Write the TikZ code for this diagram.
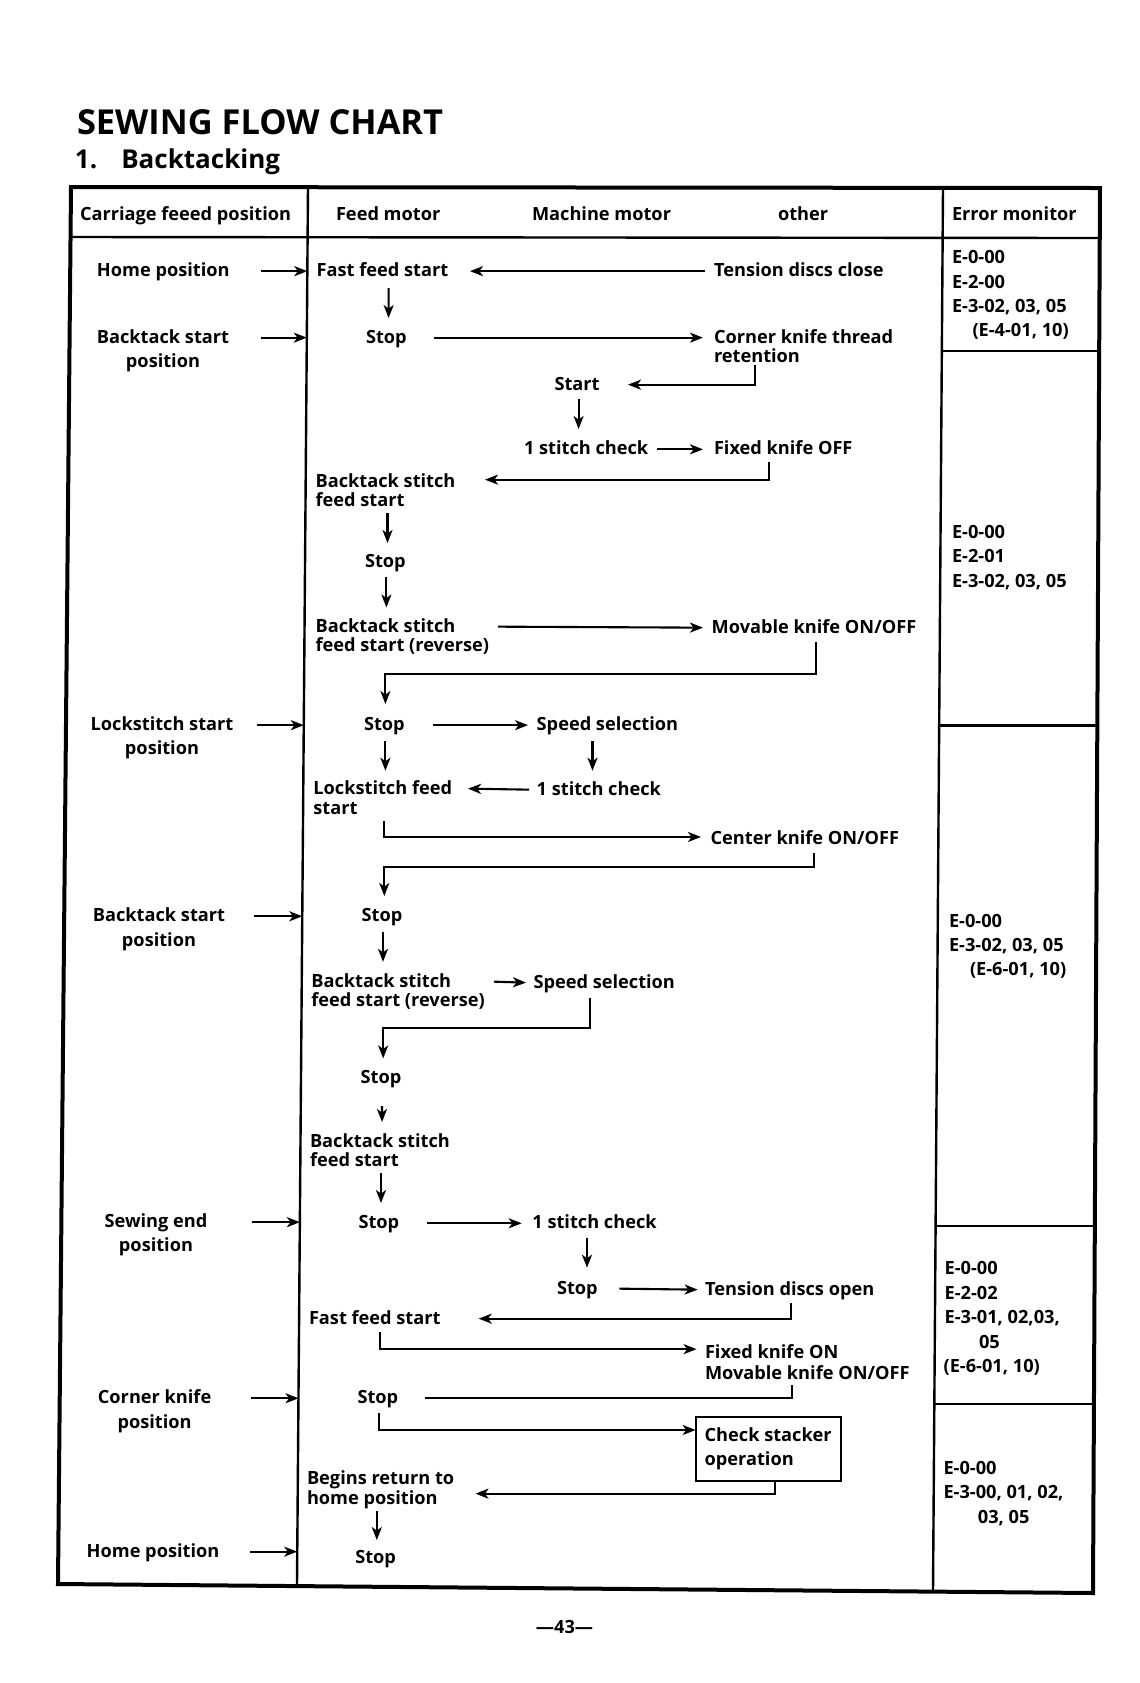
\documentclass[tikz,border=0pt]{standalone}
\usepackage{fontspec}
\setmainfont{Open Sans}
\usetikzlibrary{arrows.meta,calc}
\newcommand\bodyfont{\fontsize{9.1pt}{11pt}\selectfont\bfseries}
\newcommand\TwoL[3]{\vtop{\baselineskip=#1\relax\lineskiplimit=-\maxdimen\hbox{#2}\hbox{#3}}}
\newcommand\TwoC[3]{\vtop{\baselineskip=#1\relax\lineskiplimit=-\maxdimen\halign{\hfil##\hfil\cr#2\cr#3\cr}}}
\newcommand\Lines[1]{\vtop{\baselineskip=12.2pt\relax\lineskiplimit=-\maxdimen #1}}
\begin{document}
\begin{tikzpicture}[x=0.5pt,y=-0.5pt,
  every node/.style={inner sep=0pt, outer sep=0pt, font=\bodyfont},
  txt/.style={anchor=base west},
  ctxt/.style={anchor=base},
  flow/.style={line width=1.05pt, -{Stealth[length=6.5pt,width=5pt,inset=1.8pt]}},
  ln/.style={line width=1.05pt},
  frame/.style={line width=2pt},
  rule/.style={line width=1.2pt}]
\useasboundingbox (0,0) rectangle (1140,1683);

% titles
\node[txt, font=\fontsize{17.2pt}{20pt}\selectfont\bfseries] (title) at (77,134) {SEWING FLOW CHART};
\node[txt, font=\fontsize{13pt}{15pt}\selectfont\bfseries] (sub) at (75,168.5) {1.\hspace{12pt}Backtacking};

% table frame
\coordinate (TL) at (71,187);
\coordinate (TR) at (1100,188);
\coordinate (BR) at (1093,1593);
\coordinate (BL) at (58,1584);
\draw[frame] (TL) -- (TR) -- (BR) -- (BL) -- cycle;
\coordinate (c1t) at (308,187);
\coordinate (c1b) at (297,1585);
\coordinate (c2t) at (943,188);
\coordinate (c2b) at (933,1592);
\draw[rule] (c1t) -- (c1b);
\draw[rule] (c2t) -- (c2b);
\coordinate (hl) at (70.5,237);
\coordinate (hr) at (1099.7,238);
\draw[rule] (hl) -- (hr);
\coordinate (r1a) at (941.8,351); \coordinate (r1b) at (1099.2,351);
\coordinate (r2a) at (939.2,725.6); \coordinate (r2b) at (1097.3,725.6);
\coordinate (r3a) at (935.6,1226); \coordinate (r3b) at (1094.8,1226);
\coordinate (r4a) at (934.3,1404); \coordinate (r4b) at (1093.9,1404);
\draw[rule] (r1a) -- (r1b);
\draw[rule] (r2a) -- (r2b);
\draw[rule] (r3a) -- (r3b);
\draw[rule] (r4a) -- (r4b);

% header
\node[txt] (hcar) at (80,220) {Carriage feeed position};
\node[txt] (hfeed) at (336,220) {Feed motor};
\node[txt] (hmach) at (532,220) {Machine motor};
\node[txt] (hother) at (778,220) {other};
\node[txt] (herr) at (952,220) {Error monitor};

% left column
\node[txt] (lhome1) at (97,276.5) {Home position};
\node[ctxt] (lback1) at (163,343) {\TwoC{12.2pt}{Backtack start}{position}};
\node[ctxt] (llock) at (162,730.5) {\TwoC{12.2pt}{Lockstitch start}{position}};
\node[ctxt] (lback2) at (159,921.6) {\TwoC{12.2pt}{Backtack start}{position}};
\node[ctxt] (lsew) at (156,1227.5) {\TwoC{12.2pt}{Sewing end}{position}};
\node[ctxt] (lcorner) at (154.6,1403.6) {\TwoC{12.2pt}{Corner knife}{position}};
\node[txt] (lhome2) at (86.7,1557) {Home position};

\coordinate (k1) at (307.3,0);
\coordinate (k2) at (306.8,0);
\coordinate (k3) at (303.8,0);
\coordinate (k4) at (302.3,0);
\coordinate (k5) at (299.9,0);
\coordinate (k6) at (298.5,0);
\coordinate (k7) at (297.2,0);
\draw[flow] ($(lhome1.mid east -| k1)+(-46,0)$) -- (lhome1.mid east -| k1);
\draw[flow] ($(lback1.mid east -| k2)+(-46,0)$) -- (lback1.mid east -| k2);
\draw[flow] ($(llock.mid east -| k3)+(-47,0)$) -- (llock.mid east -| k3);
\draw[flow] ($(lback2.mid east -| k4)+(-48,0)$) -- (lback2.mid east -| k4);
\draw[flow] ($(lsew.mid east -| k5)+(-48,0)$) -- (lsew.mid east -| k5);
\draw[flow] ($(lcorner.mid east -| k6)+(-48,0)$) -- (lcorner.mid east -| k6);
\draw[flow] ($(lhome2.mid east -| k7)+(-47,0)$) -- (lhome2.mid east -| k7);

% middle column nodes
\node[txt] (ffs1) at (316.7,276.5) {Fast feed start};
\node[txt] (tdc) at (714,276.5) {Tension discs close};
\node[txt] (stop1) at (366,343) {Stop};
\node[txt] (ckt) at (714,343) {\TwoL{9.8pt}{Corner knife thread}{retention}};
\node[txt] (start) at (554.5,390) {Start};
\node[txt] (sc1) at (524,454.7) {1 stitch check};
\node[txt] (fko) at (714,454.7) {Fixed knife OFF};
\node[txt] (bsf1) at (315.6,487) {\TwoL{9.8pt}{Backtack stitch}{feed start}};
\node[txt] (stop2) at (365,567.4) {Stop};
\node[txt] (bsfr1) at (315.6,632) {\TwoL{9.9pt}{Backtack stitch}{feed start (reverse)}};
\node[txt] (mko) at (711.7,633) {Movable knife ON/OFF};
\node[txt] (stop3) at (364,730.5) {Stop};
\node[txt] (ss1) at (536.7,730.5) {Speed selection};
\node[txt] (sc2) at (536.7,795) {1 stitch check};
\node[txt] (lfs) at (313.4,794) {\TwoL{10pt}{Lockstitch feed}{start}};
\node[txt] (ckoo) at (710.6,844.3) {Center knife ON/OFF};
\node[txt] (stop4) at (361.7,921.6) {Stop};
\node[txt] (bsfr2) at (311.3,987) {\TwoL{9.7pt}{Backtack stitch}{feed start (reverse)}};
\node[txt] (ss2) at (533.5,988) {Speed selection};
\node[txt] (stop5) at (360.7,1083.7) {Stop};
\node[txt] (bsf2) at (310,1147) {\TwoL{9.7pt}{Backtack stitch}{feed start}};
\node[txt] (stop6) at (358.5,1228.6) {Stop};
\node[txt] (sc3) at (532.4,1228.6) {1 stitch check};
\node[txt] (stop7) at (557,1294) {Stop};
\node[txt] (tdo) at (705,1295) {Tension discs open};
\node[txt] (ffs2) at (309,1324) {Fast feed start};
\node[txt] (fkon) at (705,1358.5) {\TwoL{10.7pt}{Fixed knife ON}{Movable knife ON/OFF}};
\node[txt] (stop8) at (357.5,1403.6) {Stop};
\node[draw, line width=1.1pt, anchor=north west, minimum width=72.5pt, minimum height=32pt, inner xsep=4pt] (box) at (695.6,1417) {\TwoL{12pt}{Check stacker}{operation}};
\node[txt] (brh) at (307,1484) {\TwoL{10.2pt}{Begins return to}{home position}};
\node[txt] (stop9) at (355.3,1563.5) {Stop};

% middle connectors
\draw[flow] ($(tdc.mid west)+(-9,0)$) -- ($(ffs1.mid west)+(153.3,0)$);
\draw[flow] ($(ffs1.base west)+(71.9,11.5)$) -- ($(stop1.base west)+(22.6,-25)$);
\draw[flow] ($(stop1.mid west)+(68,0)$) -- ($(ckt.mid west)+(-11,0)$);
\draw[flow] ($(ckt.base west)+(40.6,22)$) |- ($(start.mid west)+(73.5,0)$);
\draw[flow] ($(start.base west)+(24.1,9)$) -- ($(sc1.base west)+(54.6,-25.7)$);
\draw[flow] ($(sc1.mid west)+(133,0)$) -- ($(fko.mid west)+(-11,0)$);
\draw[flow] ($(fko.base west)+(54.6,7)$) |- ($(bsf1.mid west)+(169.4,-2)$);
\draw[flow] ($(bsf1.base west)+(71.9,26)$) -- ($(stop2.base west)+(22.5,-24.4)$);
\draw[flow] ($(stop2.base west)+(21.4,10)$) -- ($(bsfr1.base west)+(70.8,-24.5)$);
\draw[flow] ($(bsfr1.mid west)+(182.4,0)$) -- ($(mko.mid west)+(-8.7,0)$);
\draw[flow] ($(mko.base west)+(104.1,9)$) -- ++(0,32) -| ($(stop3.base west)+(21.4,-26.5)$);
\draw[flow] ($(stop3.mid west)+(68.6,0)$) -- ($(ss1.mid west)+(-8.7,0)$);
\draw[flow] ($(ss1.base west)+(55.8,10.1)$) -- ($(sc2.base west)+(55.8,-24.3)$);
\draw[flow] ($(stop3.base west)+(21.4,10.1)$) -- ($(lfs.base west)+(72,-23.3)$);
\draw[flow] ($(sc2.mid west)+(-7.7,0)$) -- ($(lfs.mid west)+(154.6,0)$);
\draw[flow] ($(lfs.base west)+(70.9,27)$) |- ($(ckoo.mid west)+(-9.6,-2)$);
\draw[flow] ($(ckoo.base west)+(103,8.7)$) -- ++(0,14) -| ($(stop4.base west)+(22.6,-25.6)$);
\draw[flow] ($(stop4.base west)+(21.3,10.1)$) -- ($(bsfr2.base west)+(71.7,-25.2)$);
\draw[flow] ($(bsfr2.mid west)+(182.5,0)$) -- ($(ss2.mid west)+(-7.5,0)$);
\draw[flow] ($(ss2.base west)+(56.9,10)$) -- ++(0,30.3) -| ($(stop5.base west)+(22.5,-25.3)$);
\draw[flow] ($(stop5.base west)+(21.3,22.3)$) -- ($(bsf2.base west)+(72,-25)$);
\draw[flow] ($(bsf2.base west)+(71,26)$) -- ($(stop6.base west)+(22.5,-25.6)$);
\draw[flow] ($(stop6.mid west)+(68.5,0)$) -- ($(sc3.mid west)+(-10.7,0)$);
\draw[flow] ($(sc3.base west)+(54.6,9)$) -- ($(stop7.base west)+(30,-26.3)$);
\draw[flow] ($(stop7.mid west)+(62.4,0)$) -- ($(tdo.mid west)+(-7.3,0)$);
\draw[flow] ($(tdo.base west)+(86,8)$) |- ($(ffs2.mid west)+(169.7,0)$);
\draw[flow] ($(ffs2.base west)+(71,8)$) |- ($(fkon.mid west)+(-8.4,-4)$);
\draw[ln] ($(fkon.base west)+(87,26.5)$) |- ($(stop8.mid west)+(67.5,0)$);
\draw[flow] ($(stop8.base west)+(21.5,9)$) |- ($(box.north west)+(0,13)$);
\draw[flow] ($(box.south west)+(79.4,0)$) |- ($(brh.mid west)+(168.5,15)$);
\draw[flow] ($(brh.base west)+(69.8,27)$) -- ($(stop9.base west)+(21.5,-23.5)$);

% error monitor
\node[txt] (e1) at (952,263.6) {\Lines{\hbox{E-0-00}\hbox{E-2-00}\hbox{E-3-02, 03, 05}\hbox{\hskip10.25pt (E-4-01, 10)}}};
\node[txt] (e2) at (952,538.4) {\Lines{\hbox{E-0-00}\hbox{E-2-01}\hbox{E-3-02, 03, 05}}};
\node[txt] (e3) at (949,927) {\Lines{\hbox{E-0-00}\hbox{E-3-02, 03, 05}\hbox{\hskip10.5pt (E-6-01, 10)}}};
\node[txt] (e4) at (944.6,1274.8) {\Lines{\hbox{E-0-00}\hbox{E-2-02}\hbox{E-3-01, 02,03,}\hbox{\hskip17.2pt 05}\hbox{\hskip-0.5pt (E-6-01, 10)}}};
\node[txt] (e5) at (943.5,1474.4) {\Lines{\hbox{E-0-00}\hbox{E-3-00, 01, 02,}\hbox{\hskip17.2pt 03, 05}}};

% page number
\node[ctxt] (pg) at (564.5,1633) {—43—};
\end{tikzpicture}
\end{document}
